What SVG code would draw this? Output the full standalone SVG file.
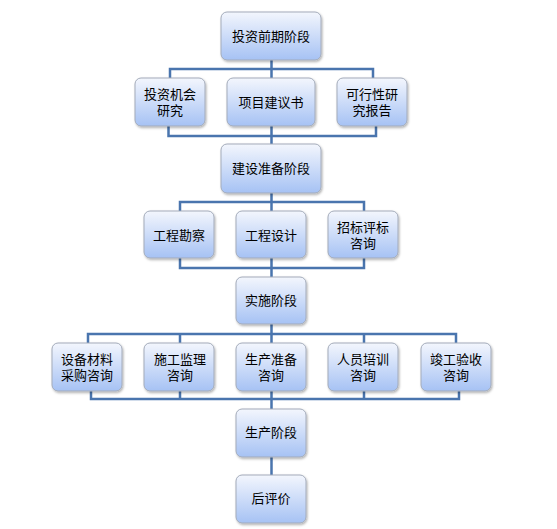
<svg xmlns="http://www.w3.org/2000/svg" width="557" height="529" viewBox="0 0 557 529">
<defs>
<linearGradient id="g" x1="0" y1="0" x2="0" y2="1">
<stop offset="0" stop-color="#f3f6fd"/>
<stop offset="1" stop-color="#a6c2f4"/>
</linearGradient>
<filter id="sh" x="-10%" y="-10%" width="125%" height="130%">
<feDropShadow dx="1" dy="1.5" stdDeviation="1.2" flood-color="#000" flood-opacity="0.3"/>
</filter>
</defs>
<style>
.n rect{fill:url(#g);stroke:#a3abba;stroke-width:1;filter:url(#sh)}
.n text{font-family:"Liberation Sans","Noto Sans CJK SC",sans-serif;font-size:13px;fill:#000;text-anchor:middle;dominant-baseline:central}
.c path{fill:none;stroke:#4a75ae;stroke-width:2.5}
</style>
<rect width="557" height="529" fill="#fff"/>
<g class="c" id="connectors">
<path d="M271.5 60V78M170 78V69H373V78"/>
<path d="M271.5 126V144M168.5 126V136H376V126"/>
<path d="M271.5 193V211M180 211V202H364V211"/>
<path d="M271.5 258V277M180 258V268H364V258"/>
<path d="M271.5 324V343M88 343V334H456V343M180 334V343M364 334V343"/>
<path d="M271.5 391V409M91 391V399H459V391M180 391V399M364 391V399"/>
<path d="M271.5 457V475"/>
</g>
<g class="n" id="n1"><rect x="221" y="12" width="100" height="48" rx="6"/><text x="271" y="36">投资前期阶段</text></g>
<g class="n" id="n2"><rect x="135" y="78" width="70" height="48" rx="6"/><text x="170" y="94">投资机会<tspan x="170" dy="16">研究</tspan></text></g>
<g class="n" id="n3"><rect x="227" y="78" width="88" height="48" rx="6"/><text x="271" y="102">项目建议书</text></g>
<g class="n" id="n4"><rect x="337" y="78" width="70" height="48" rx="6"/><text x="372" y="94">可行性研<tspan x="372" dy="16">究报告</tspan></text></g>
<g class="n" id="n5"><rect x="221" y="144" width="100" height="49" rx="6"/><text x="271" y="168">建设准备阶段</text></g>
<g class="n" id="n6"><rect x="144" y="211" width="70" height="47" rx="6"/><text x="179" y="235">工程勘察</text></g>
<g class="n" id="n7"><rect x="236" y="211" width="70" height="47" rx="6"/><text x="271" y="235">工程设计</text></g>
<g class="n" id="n8"><rect x="328" y="211" width="70" height="47" rx="6"/><text x="363" y="227">招标评标<tspan x="363" dy="16">咨询</tspan></text></g>
<g class="n" id="n9"><rect x="236" y="277" width="70" height="47" rx="6"/><text x="271" y="300">实施阶段</text></g>
<g class="n" id="n10"><rect x="52" y="343" width="70" height="48" rx="6"/><text x="87" y="359">设备材料<tspan x="87" dy="15.5">采购咨询</tspan></text></g>
<g class="n" id="n11"><rect x="144" y="343" width="70" height="48" rx="6"/><text x="180" y="359">施工监理<tspan x="180" dy="15.5">咨询</tspan></text></g>
<g class="n" id="n12"><rect x="236" y="343" width="70" height="48" rx="6"/><text x="271" y="359">生产准备<tspan x="271" dy="15.5">咨询</tspan></text></g>
<g class="n" id="n13"><rect x="328" y="343" width="70" height="48" rx="6"/><text x="363" y="359">人员培训<tspan x="363" dy="15.5">咨询</tspan></text></g>
<g class="n" id="n14"><rect x="421" y="343" width="70" height="48" rx="6"/><text x="456" y="359">竣工验收<tspan x="456" dy="15.5">咨询</tspan></text></g>
<g class="n" id="n15"><rect x="236" y="409" width="70" height="48" rx="6"/><text x="271" y="432">生产阶段</text></g>
<g class="n" id="n16"><rect x="236" y="475" width="70" height="48" rx="6"/><text x="271" y="498">后评价</text></g>
</svg>
